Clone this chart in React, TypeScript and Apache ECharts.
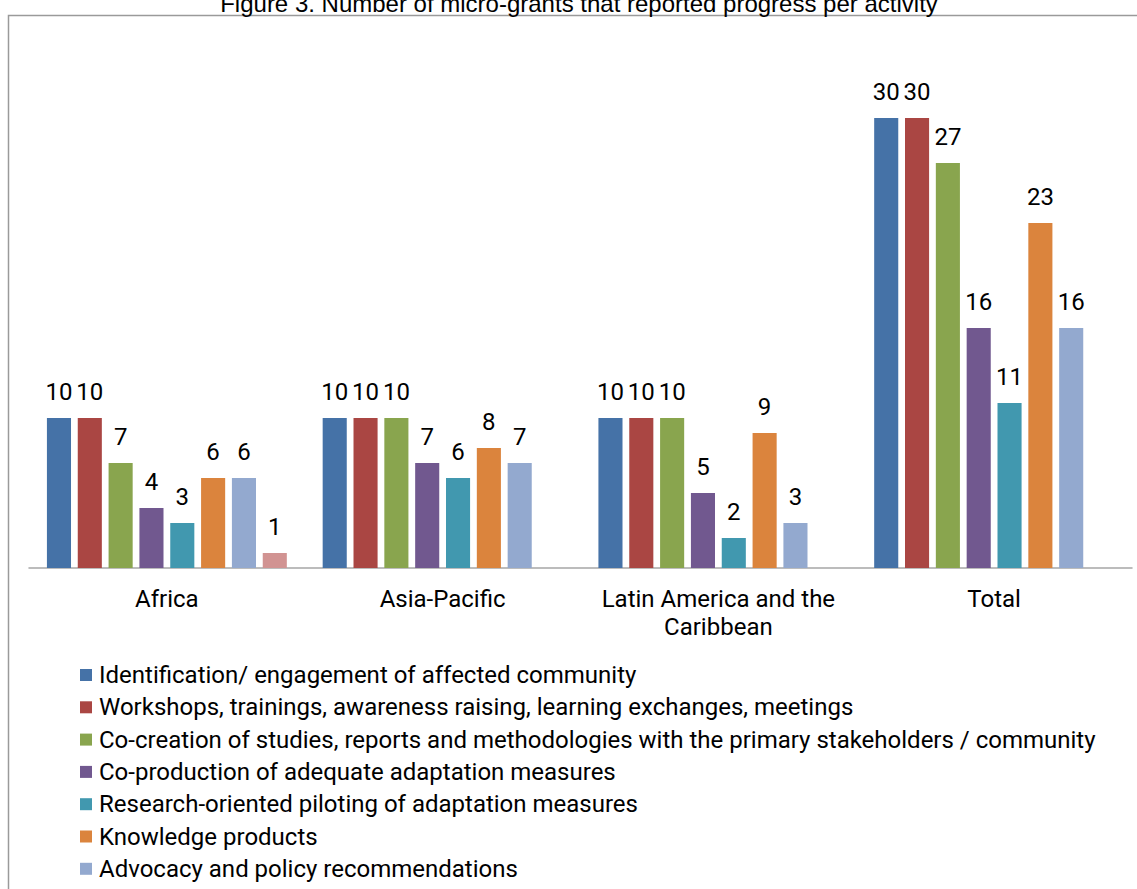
import React, { useEffect, useRef } from "react";
import * as echarts from "echarts";

const TITLE = "Figure 3. Number of micro-grants that reported progress per activity";
const categories = ["Africa", "Asia-Pacific", "Latin America and the\nCaribbean", "Total"];
const seriesNames = [
  "Identification/ engagement of affected community",
  "Workshops, trainings, awareness raising, learning exchanges, meetings",
  "Co-creation of studies, reports and methodologies with the primary stakeholders / community",
  "Co-production of adequate adaptation measures",
  "Research-oriented piloting of adaptation measures",
  "Knowledge products",
  "Advocacy and policy recommendations",
  "Other",
];
const identification = [10, 10, 10, 30];
const workshops = [10, 10, 10, 30];
const coCreation = [7, 10, 10, 27];
const coProduction = [4, 7, 5, 16];
const piloting = [3, 6, 2, 11];
const knowledge = [6, 8, 9, 23];
const advocacy = [6, 7, 3, 16];
const other = [1, null, null, null];
const colors = ["#4572A7", "#AA4643", "#89A54E", "#71588F", "#4198AF", "#DB843D", "#93A9CF", "#D19392"];

const allData = [identification, workshops, coCreation, coProduction, piloting, knowledge, advocacy, other];

export default function App() {
  const ref = useRef<HTMLDivElement>(null);
  useEffect(() => {
    if (!ref.current) return;
    const chart = echarts.init(ref.current, null, { renderer: "svg" });
    const font = "Roboto";
    chart.setOption({
      animation: false,
      color: colors,
      graphic: [
        {
          type: "rect",
          shape: { x: 8.5, y: 15.5, width: 1200, height: 1000 },
          style: { fill: "none", stroke: "#9A9A9A", lineWidth: 1.5 },
          silent: true,
        },
        {
          type: "text",
          x: 579,
          y: 15,
          style: {
            text: TITLE,
            fontSize: 24,
            fontFamily: "Liberation Sans",
            fill: "#000",
            align: "center",
            verticalAlign: "bottom",
          },
        },
      ],
      legend: {
        orient: "vertical",
        left: 80,
        top: 663,
        height: 260,
        padding: 0,
        itemWidth: 12,
        itemHeight: 12,
        itemGap: 8.3,
        icon: "rect",
        data: seriesNames.slice(0, 7),
        textStyle: { fontSize: 24, fontFamily: font, color: "#000", lineHeight: 24, padding: [0, 0, 0, 2] },
      },
      grid: { left: 29, right: 5, top: 43, bottom: 321, containLabel: false },
      xAxis: {
        type: "category",
        data: categories,
        axisLine: { lineStyle: { color: "#A6A6A6", width: 1.5 } },
        axisTick: { show: false },
        axisLabel: { interval: 0, fontSize: 24, fontFamily: font, color: "#000", lineHeight: 28, margin: 17 },
      },
      yAxis: { type: "value", min: 0, max: 35, show: false, splitLine: { show: false } },
      series: allData.map((d, i) => ({
        type: "bar",
        name: seriesNames[i],
        data: d,
        barGap: "28%",
        barCategoryGap: "13%",
        itemStyle: { color: colors[i] },
        label: {
          show: true,
          position: "top",
          distance: 13,
          fontSize: 24,
          fontFamily: font,
          color: "#000",
          lineHeight: 26,
        },
      })),
    });
    return () => chart.dispose();
  }, []);
  return (
    <div
      ref={ref}
      style={{ position: "absolute", left: 0, top: 0, width: 1137, height: 889 }}
    />
  );
}
